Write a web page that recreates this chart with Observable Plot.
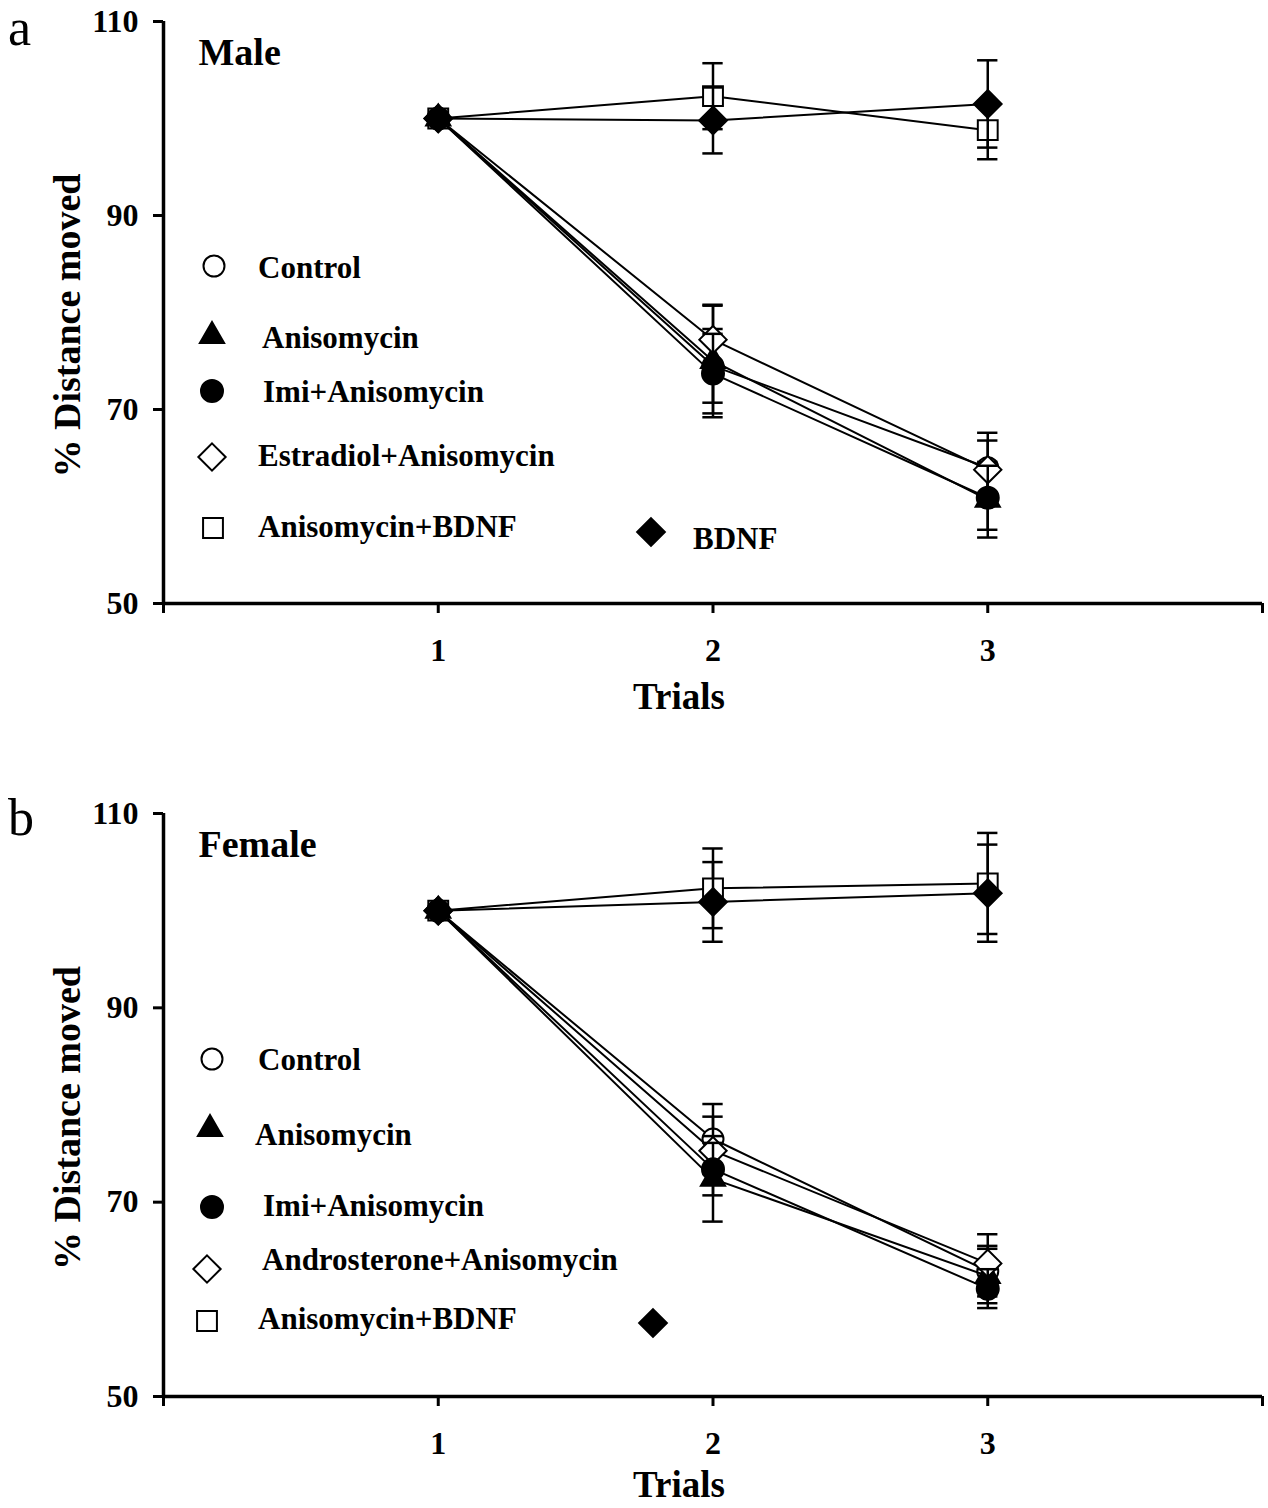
<!DOCTYPE html>
<html><head><meta charset="utf-8">
<script src="https://cdn.jsdelivr.net/npm/d3@7"></script>
<script src="https://cdn.jsdelivr.net/npm/@observablehq/plot@0.6"></script>
<style>
body{margin:0;background:#fff;font-family:"Liberation Serif","Times New Roman",serif;color:#000;}
.panel{position:relative;width:1268px;height:754px;overflow:hidden;}
.panel svg.chart{position:absolute;left:0;top:0;}
.letter{position:absolute;font-size:52px;line-height:1;font-weight:normal;}
.leg{position:absolute;font-weight:bold;font-size:31px;white-space:nowrap;line-height:1;transform:translateY(-50%);}
.sym{position:absolute;overflow:visible;}
</style></head><body>
<div id="pa" class="panel"></div>
<div id="pb" class="panel"></div>
<script>
// ---------------- data ----------------
const trials = [1, 2, 3];
const xTicks = [0, 1, 2, 3, 4];
const xTickLabels = ["", "1", "2", "3", ""];
const yTicks = [50, 70, 90, 110];

const maleLabels = ["Control", "Anisomycin", "Imi+Anisomycin", "Estradiol+Anisomycin", "Anisomycin+BDNF", "BDNF"];
const maleMeans = [
  [100, 74.5, 64.0],
  [100, 75.0, 60.7],
  [100, 73.7, 60.9],
  [100, 77.2, 63.8],
  [100, 102.3, 98.8],
  [100, 99.8, 101.5]
];
const maleErrors = [
  [0, 3.8, 3.6],
  [0, 5.8, 3.9],
  [0, 4.1, 3.3],
  [0, 3.5, 3.0],
  [0, 3.4, 3.0],
  [0, 3.4, 4.5]
];

const femaleLabels = ["Control", "Anisomycin", "Imi+Anisomycin", "Androsterone+Anisomycin", "Anisomycin+BDNF", ""];
const femaleMeans = [
  [100, 76.5, 62.9],
  [100, 72.4, 62.4],
  [100, 73.4, 61.1],
  [100, 75.3, 63.7],
  [100, 102.3, 102.8],
  [100, 100.9, 101.8]
];
const femaleErrors = [
  [0, 3.6, 2.6],
  [0, 4.4, 2.8],
  [0, 2.7, 2.0],
  [0, 3.5, 3.0],
  [0, 4.1, 5.2],
  [0, 4.1, 5.0]
];

// ---------------- styles / layout ----------------
const symStyles = [
  {symbol: "circle",   fill: "white", r: 10.5},
  {symbol: "triangle", fill: "black", r: 9},
  {symbol: "circle",   fill: "black", r: 11},
  {symbol: "diamond2", fill: "white", r: 12.3},
  {symbol: "square",   fill: "white", r: 11.2},
  {symbol: "diamond2", fill: "black", r: 12.5}
];
const drawOrder = [0, 1, 3, 4, 5, 2];
const d3Symbols = {circle: d3.symbolCircle, triangle: d3.symbolTriangle, diamond2: d3.symbolDiamond2, square: d3.symbolSquare};

// legend layout: [symbol cx, symbol cy, text x, text cy] per series (panel-local px)
const maleLegendLayout = [
  [214, 266, 258, 267], [212, 336, 262, 337], [212, 391, 263, 391],
  [212, 457, 258, 455], [213, 528, 258, 526], [651, 532, 693, 538]
];
const femaleLegendLayout = [
  [212, 305, 258, 305], [210, 375, 255, 380], [212, 453, 263, 451],
  [207, 515, 262, 505], [207, 567, 258, 564], [653, 569, 700, 569]
];

function makePanel(el, letter, letterTop, title, labels, means, errors, legendLayout, mt, mb, trialsDy) {
  const rows = [];
  means.forEach((m, s) => trials.forEach((t, i) => rows.push({series: s, trial: t, mean: m[i], err: errors[s][i]})));
  const marks = [];
  marks.push(Plot.axisY({ticks: yTicks, tickSize: 10, tickPadding: 15, strokeWidth: 3, label: null, fontSize: 32}));
  marks.push(Plot.axisX({ticks: xTicks, tickFormat: d => xTickLabels[xTicks.indexOf(d)], tickSize: 10, tickPadding: 25, strokeWidth: 3, label: null, fontSize: 32}));
  marks.push(Plot.ruleX([xTicks[0]], {strokeWidth: 3.5}));
  marks.push(Plot.ruleY([yTicks[0]], {strokeWidth: 3.5}));
  for (const s of drawOrder) {
    const sr = rows.filter(d => d.series === s);
    const er = sr.filter(d => d.err > 0);
    const st = symStyles[s];
    marks.push(Plot.line(sr, {x: "trial", y: "mean", stroke: "black", strokeWidth: 2}));
    marks.push(Plot.ruleX(er, {x: "trial", y1: d => d.mean - d.err, y2: d => d.mean + d.err, stroke: "black", strokeWidth: 2.5}));
    marks.push(Plot.ruleY(er, {y: d => d.mean + d.err, x1: d => d.trial - 0.037, x2: d => d.trial + 0.037, stroke: "black", strokeWidth: 2.5}));
    marks.push(Plot.ruleY(er, {y: d => d.mean - d.err, x1: d => d.trial - 0.037, x2: d => d.trial + 0.037, stroke: "black", strokeWidth: 2.5}));
    marks.push(Plot.dot(sr, {x: "trial", y: "mean", symbol: st.symbol, r: st.r, fill: st.fill, stroke: "black", strokeWidth: 2}));
  }
  marks.push(Plot.text(["% Distance moved"], {text: d => d, frameAnchor: "left", dx: -96, dy: 13, rotate: -90, textAnchor: "middle", lineAnchor: "middle", fontSize: 38, fontWeight: "bold"}));
  marks.push(Plot.text(["Trials"], {text: d => d, frameAnchor: "bottom", dx: -34, dy: trialsDy, textAnchor: "middle", lineAnchor: "middle", fontSize: 37, fontWeight: "bold"}));
  marks.push(Plot.text([title], {text: d => d, frameAnchor: "top-left", dx: 35, dy: 31, textAnchor: "start", lineAnchor: "middle", fontSize: 38, fontWeight: "bold"}));

  const chart = Plot.plot({
    width: 1268, height: 754,
    marginLeft: 163, marginRight: 6, marginTop: mt, marginBottom: mb,
    x: {domain: [xTicks[0], xTicks[xTicks.length - 1]]},
    y: {domain: [yTicks[0], yTicks[yTicks.length - 1]]},
    style: {fontFamily: "'Liberation Serif','Times New Roman',serif", fontSize: "32px", fontWeight: "bold", color: "black", background: "white", overflow: "visible"},
    marks
  });
  chart.classList.add("chart");
  el.appendChild(chart);

  const lt = document.createElement("div");
  lt.className = "letter";
  lt.style.left = "8px"; lt.style.top = letterTop + "px";
  lt.textContent = letter;
  el.appendChild(lt);

  labels.forEach((lab, s) => {
    const [cx, cy, tx, ty] = legendLayout[s];
    const st = symStyles[s];
    const svg = d3.create("svg").attr("class", "sym").attr("width", 40).attr("height", 40)
      .style("left", (cx - 20) + "px").style("top", (cy - 20) + "px");
    svg.append("path").attr("transform", "translate(20,20)")
      .attr("d", d3.symbol(d3Symbols[st.symbol], Math.PI * st.r * st.r)())
      .attr("fill", st.fill).attr("stroke", "black").attr("stroke-width", 2);
    el.appendChild(svg.node());
    if (lab) {
      const t = document.createElement("div");
      t.className = "leg";
      t.style.left = tx + "px"; t.style.top = ty + "px";
      t.textContent = lab;
      el.appendChild(t);
    }
  });
}

makePanel(document.getElementById("pa"), "a", 2, "Male", maleLabels, maleMeans, maleErrors, maleLegendLayout, 21, 151, 94);
makePanel(document.getElementById("pb"), "b", 38, "Female", femaleLabels, femaleMeans, femaleErrors, femaleLegendLayout, 59, 112, 89);
</script>
</body></html>
